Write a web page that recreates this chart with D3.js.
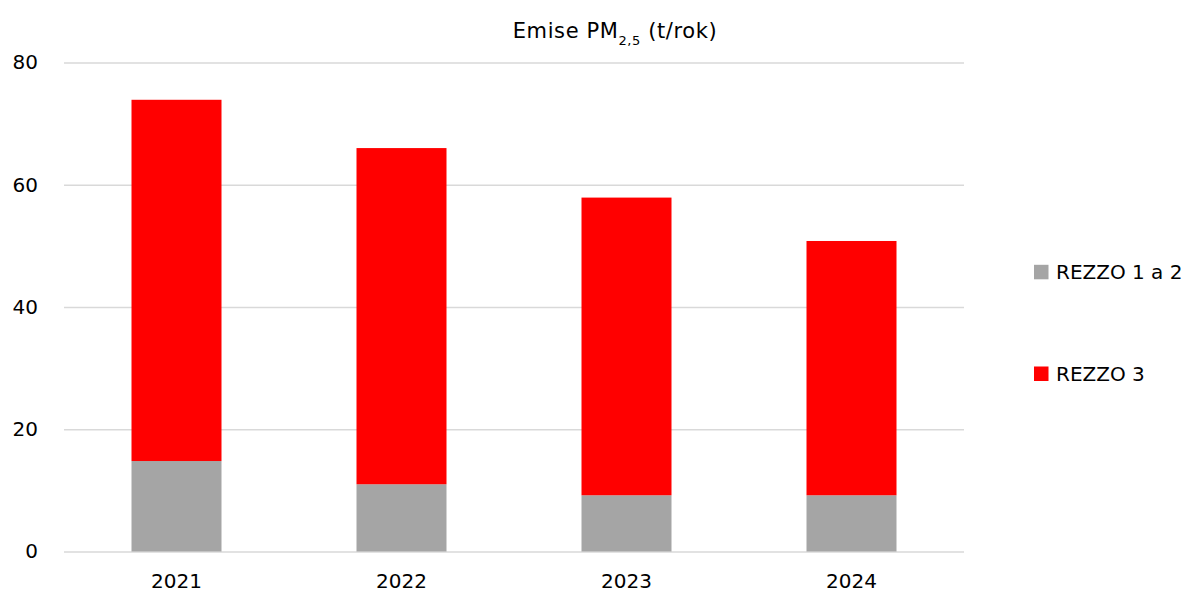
<!DOCTYPE html>
<html>
<head>
<meta charset="utf-8">
<script src="https://cdn.jsdelivr.net/npm/d3@7"></script>
<style>
  body { margin: 0; background: #fff; }
  svg { display: block; font-family: "DejaVu Sans", sans-serif; }
</style>
</head>
<body>
<svg id="chart" width="1193" height="594"></svg>
<script>
// Emise PM2,5 (t/rok) by year, stacked by source group
const years = ["2021", "2022", "2023", "2024"];
const rezzo12 = [14.8, 11.0, 9.2, 9.2];
const rezzo3 = [59.1, 55.0, 48.7, 41.6];
const seriesNames = ["REZZO 1 a 2", "REZZO 3"];
const seriesColors = ["#a5a5a5", "#ff0000"];
const yTicks = [0, 20, 40, 60, 80];

const FONT = "'DejaVu Sans', sans-serif";
const svg = d3.select("#chart");
const margin = { left: 64, right: 229, top: 62.5, bottom: 42.5 };
const W = 1193, H = 594;

const x = d3.scaleBand().domain(years)
  .range([margin.left, W - margin.right]).paddingInner(0.6).paddingOuter(0.3);
const y = d3.scaleLinear().domain([0, 80]).range([H - margin.bottom, margin.top]);

// gridlines and value labels
const yAxis = d3.axisLeft(y).tickValues(yTicks)
  .tickSize(-(W - margin.right - margin.left)).tickPadding(26);
const gy = svg.append("g").attr("transform", `translate(${margin.left},0)`).call(yAxis);
gy.select(".domain").remove();
gy.selectAll(".tick line").attr("stroke", "#d9d9d9").attr("stroke-width", 1.5);
gy.selectAll(".tick text").attr("font-size", 20).attr("fill", "#000")
  .attr("font-family", FONT);

// stacked bars
const rows = years.map((yr, i) => ({ year: yr, a: rezzo12[i], b: rezzo3[i] }));
const stack = d3.stack().keys(["a", "b"])(rows);
svg.append("g").selectAll("g").data(stack).join("g")
  .attr("fill", (d, i) => seriesColors[i])
  .selectAll("rect").data(d => d).join("rect")
  .attr("x", d => x(d.data.year))
  .attr("width", x.bandwidth())
  .attr("y", d => y(d[1]))
  .attr("height", d => y(d[0]) - y(d[1]));

// category labels
const xAxis = d3.axisBottom(x).tickSize(0).tickPadding(22.5);
const gx = svg.append("g").attr("transform", `translate(0,${H - margin.bottom})`).call(xAxis);
gx.select(".domain").remove();
gx.selectAll(".tick text").attr("font-size", 20).attr("fill", "#000")
  .attr("font-family", FONT);

// title
const title = svg.append("text").attr("x", 615).attr("y", 37.5)
  .attr("text-anchor", "middle").attr("font-size", 21).attr("fill", "#000")
  .attr("letter-spacing", 0.6);
title.append("tspan").text("Emise PM");
title.append("tspan").attr("font-size", 13).attr("dy", 7).text("2,5");
title.append("tspan").attr("dy", -7).text(" (t/rok)");

// legend
const legendY = [279.3, 381];
const lg = svg.append("g").selectAll("g").data(seriesNames).join("g")
  .attr("transform", (d, i) => `translate(1034,${legendY[i]})`);
lg.append("rect").attr("x", 0).attr("y", -14.5).attr("width", 14.5).attr("height", 14.5)
  .attr("fill", (d, i) => seriesColors[i]);
lg.append("text").attr("x", 22).attr("y", 0).attr("font-size", 20).attr("fill", "#000")
  .text(d => d);
</script>
</body>
</html>
